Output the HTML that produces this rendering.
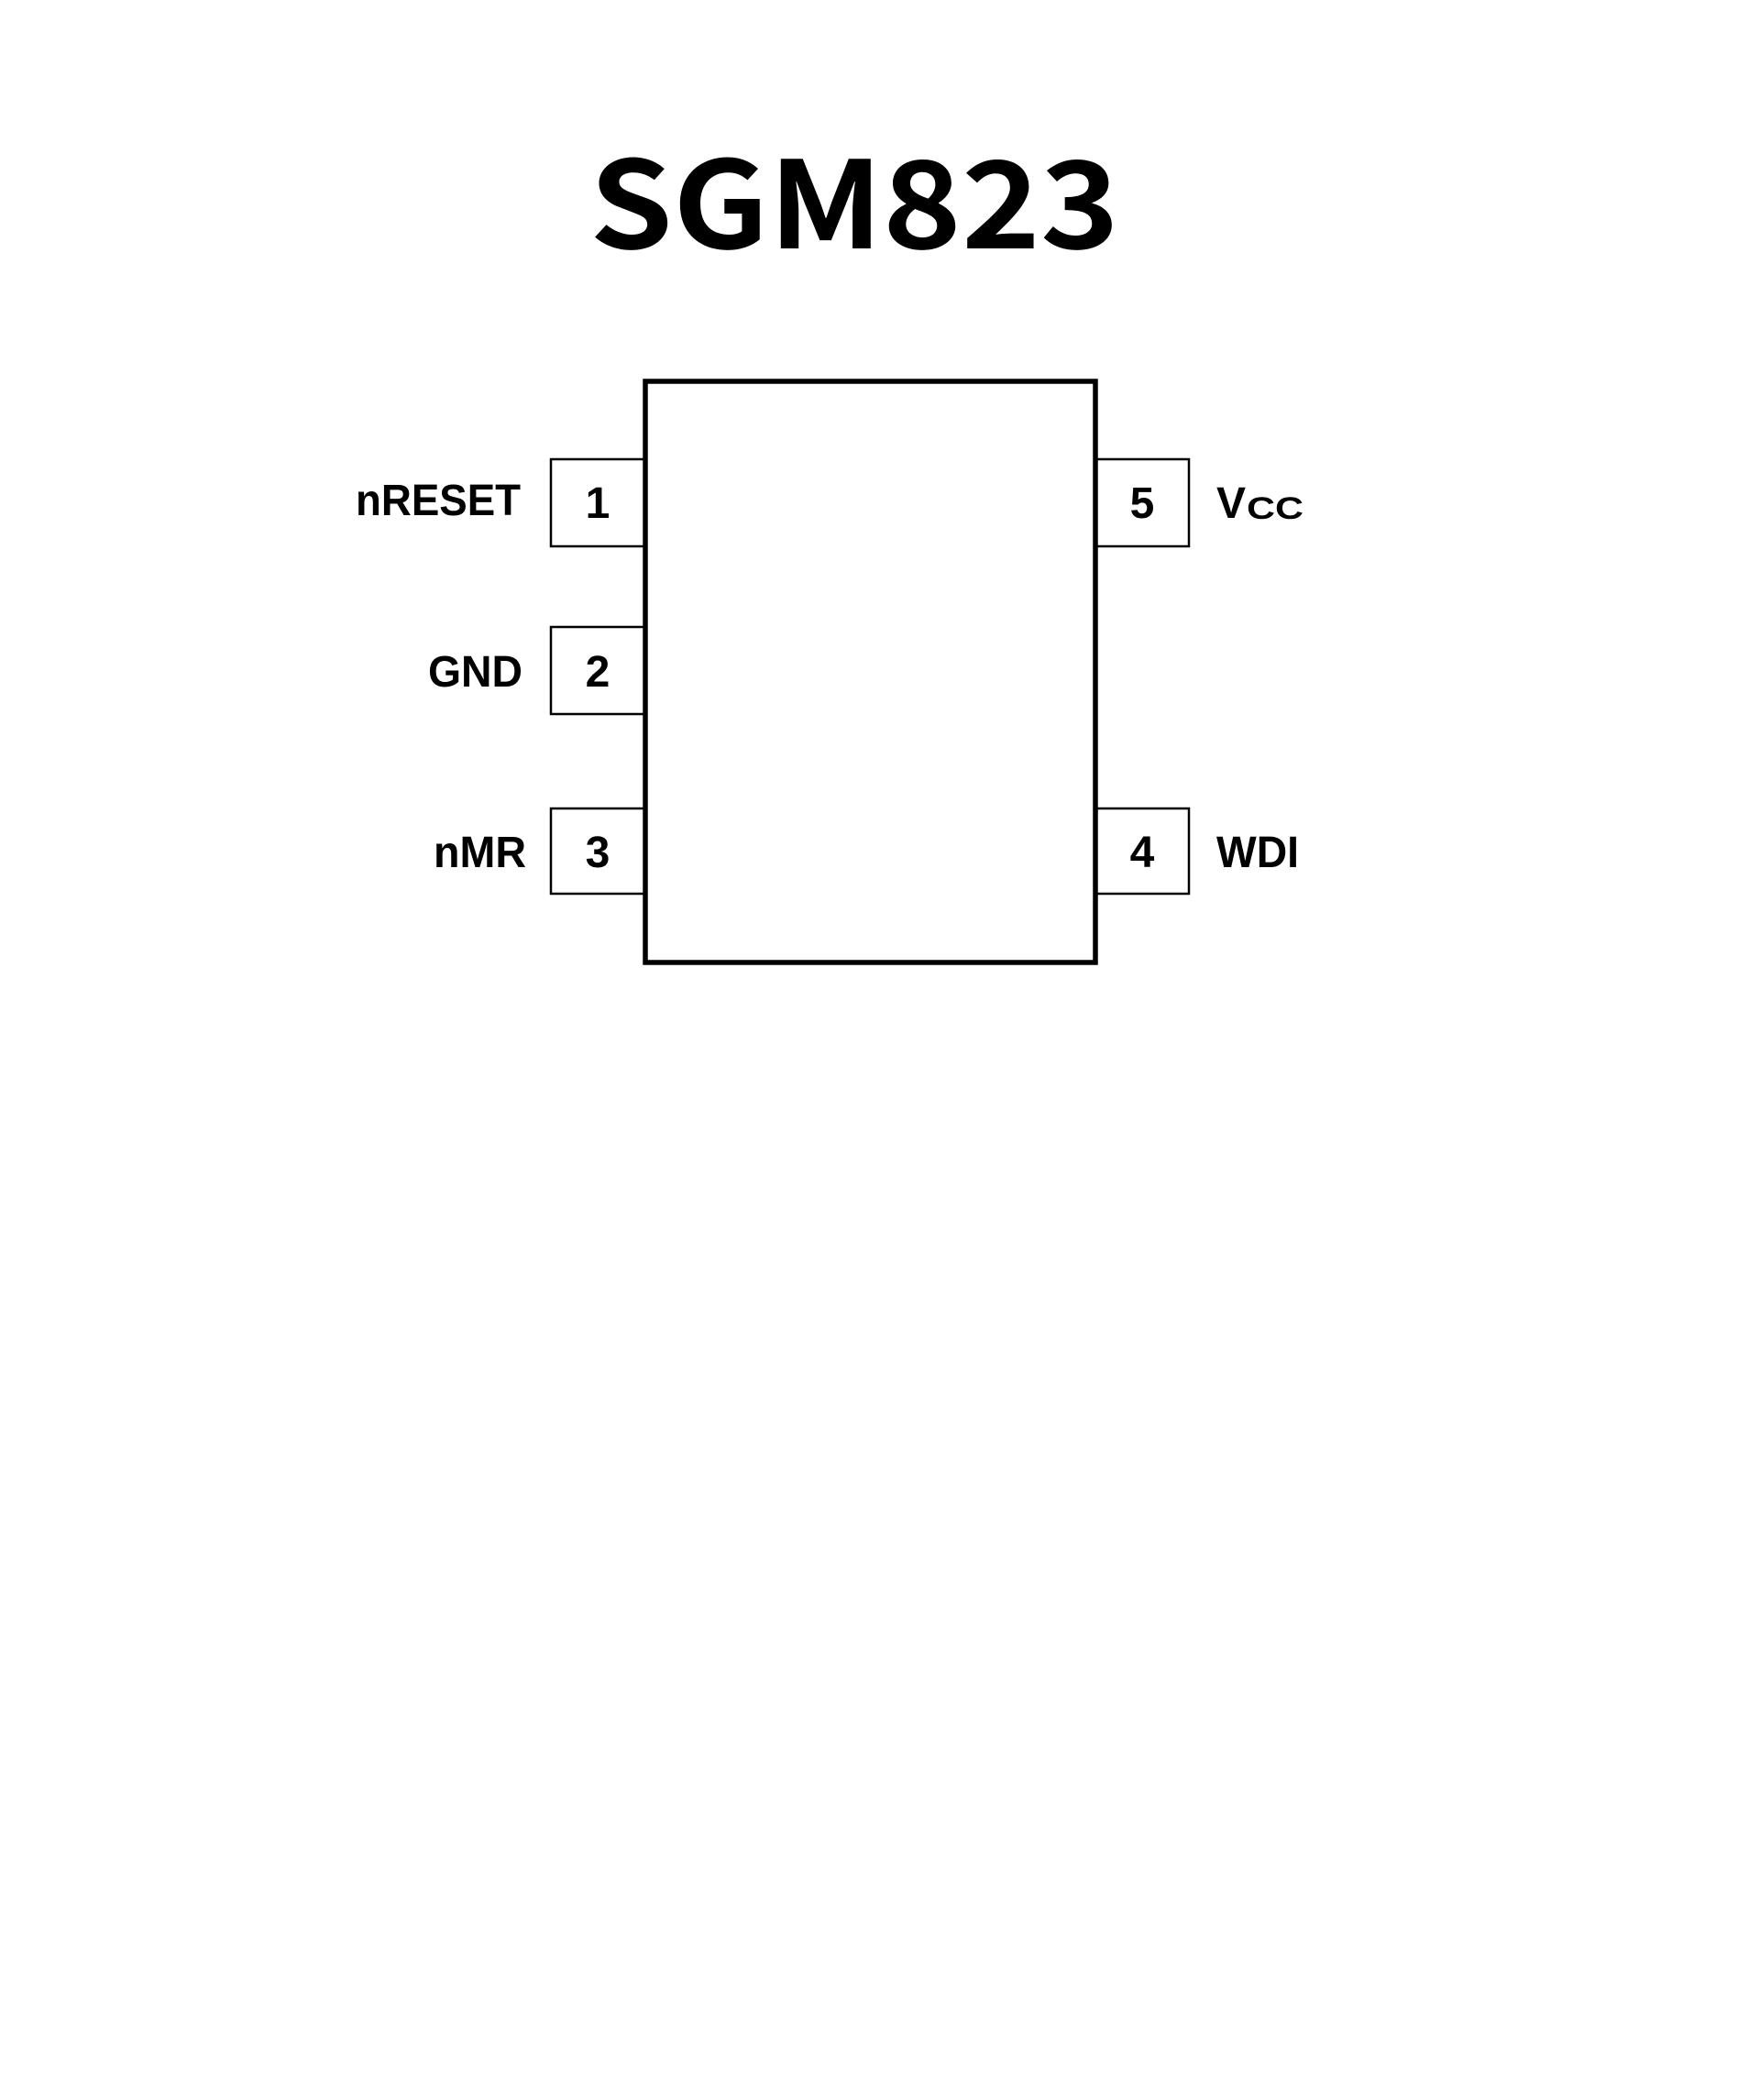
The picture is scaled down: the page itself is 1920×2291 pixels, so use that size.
<!DOCTYPE html>
<html><head><meta charset="utf-8"><style>html,body{margin:0;padding:0;background:#fff}svg{display:block}</style></head>
<body>
<svg width="1920" height="2291" viewBox="0 0 1920 2291" xmlns="http://www.w3.org/2000/svg">
<rect width="1920" height="2291" fill="#fff"/>
<text x="932" y="271" text-anchor="middle" font-family="'Noto Sans CJK SC', 'Liberation Sans', sans-serif" font-weight="bold" font-size="132" textLength="578" lengthAdjust="spacingAndGlyphs">SGM823</text>
<g fill="#fff" stroke="#000" stroke-width="2.5">
<rect x="601" y="501" width="103" height="95"/>
<rect x="601" y="684" width="103" height="95"/>
<rect x="601" y="882" width="103" height="93"/>
<rect x="1195" y="501" width="102" height="95"/>
<rect x="1195" y="882" width="102" height="93"/>
</g>
<rect x="704" y="416" width="491" height="634" fill="#fff" stroke="#000" stroke-width="5.5"/>
<g font-family="'Liberation Sans', Arial, sans-serif" font-weight="bold" font-size="48" fill="#000">
<text x="652" y="565" text-anchor="middle">1</text>
<text x="652" y="749" text-anchor="middle">2</text>
<text x="652" y="946" text-anchor="middle">3</text>
<text x="1246" y="565" text-anchor="middle">5</text>
<text x="1246" y="946" text-anchor="middle">4</text>
<text x="388" y="562" textLength="180" lengthAdjust="spacingAndGlyphs">nRESET</text>
<text x="467" y="749" textLength="103" lengthAdjust="spacingAndGlyphs">GND</text>
<text x="473" y="946" textLength="101" lengthAdjust="spacingAndGlyphs">nMR</text>
<text x="1327" y="946" textLength="90" lengthAdjust="spacingAndGlyphs">WDI</text>
<text x="1327" y="565">V</text>
<text x="1360" y="566" font-size="34" textLength="62" lengthAdjust="spacingAndGlyphs">CC</text>
</g>
</svg>
</body></html>
